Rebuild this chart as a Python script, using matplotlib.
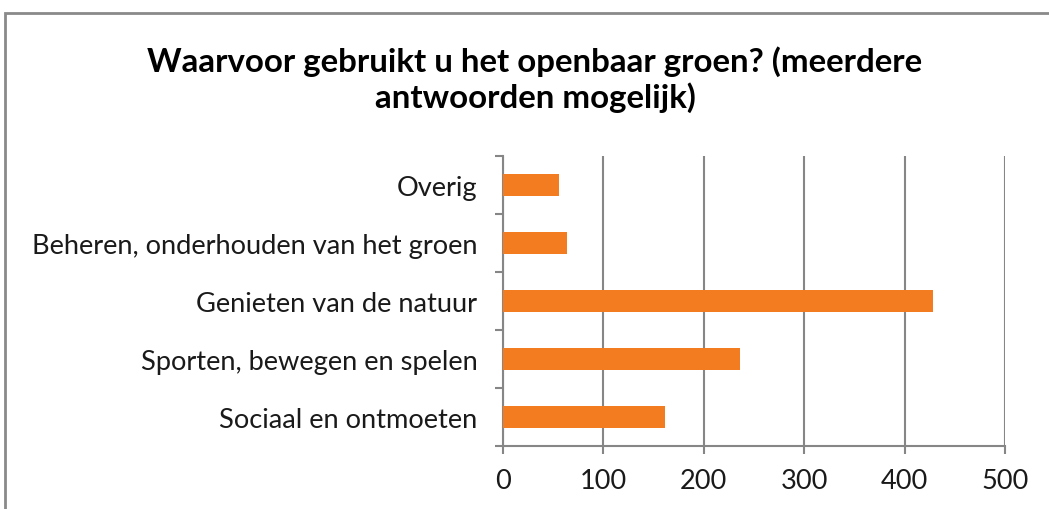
import matplotlib
matplotlib.use("Agg")
import matplotlib.pyplot as plt
from matplotlib.patches import Rectangle

categories = ["Sociaal en ontmoeten", "Sporten, bewegen en spelen", "Genieten van de natuur",
              "Beheren, onderhouden van het groen", "Overig"]
values = [161, 236, 428, 64, 56]
xticks = [0, 100, 200, 300, 400, 500]
title = "Waarvoor gebruikt u het openbaar groen? (meerdere\nantwoorden mogelijk)"

W, H = 1049, 510
fig = plt.figure(figsize=(W / 100, H / 100), dpi=100)
plt.rcParams['font.family'] = ['Lato', 'DejaVu Sans']

grey = "#868686"
orange = "#F47C20"
txt = "#1a1a1a"

ax = fig.add_axes([503 / W, (H - 447) / H, (1005 - 503) / W, (447 - 157) / H])
ypos = list(range(len(categories)))
ax.barh(ypos, values, height=0.38, color=orange, zorder=3)
ax.set_xlim(0, 500)
ax.set_ylim(-0.5, len(categories) - 0.5)

ax.set_xticks(xticks)
ax.set_xticklabels([str(t) for t in xticks], fontsize=19.5, color=txt)
ax.set_yticks(ypos)
ax.set_yticklabels(categories, fontsize=19.6, color=txt)
ax.set_yticks([i - 0.5 for i in range(len(categories) + 1)], minor=True)

ax.tick_params(axis='y', which='major', length=0, pad=18.5)
ax.tick_params(axis='y', which='minor', length=6, width=1.5, color=grey, direction='out')
ax.tick_params(axis='x', which='major', length=6, width=1.5, color=grey, direction='out', pad=10)

ax.xaxis.grid(True, color=grey, linewidth=1.5, zorder=0)
ax.set_axisbelow(True)
for s in ['top', 'right']:
    ax.spines[s].set_visible(False)
for s in ['left', 'bottom']:
    ax.spines[s].set_color(grey)
    ax.spines[s].set_linewidth(1.5)

fig.text(535 / W, 1 - 80 / H, title, ha='center', va='center', fontsize=23.8,
         fontweight='bold', color='black', linespacing=1.2)

fig.patches.append(Rectangle((5 / W, -0.1), 1.2, 1 - 14 / H + 0.1, transform=fig.transFigure,
                             fill=False, edgecolor="#8a8a8a", linewidth=2, figure=fig))

fig.savefig("out.png", dpi=100)
